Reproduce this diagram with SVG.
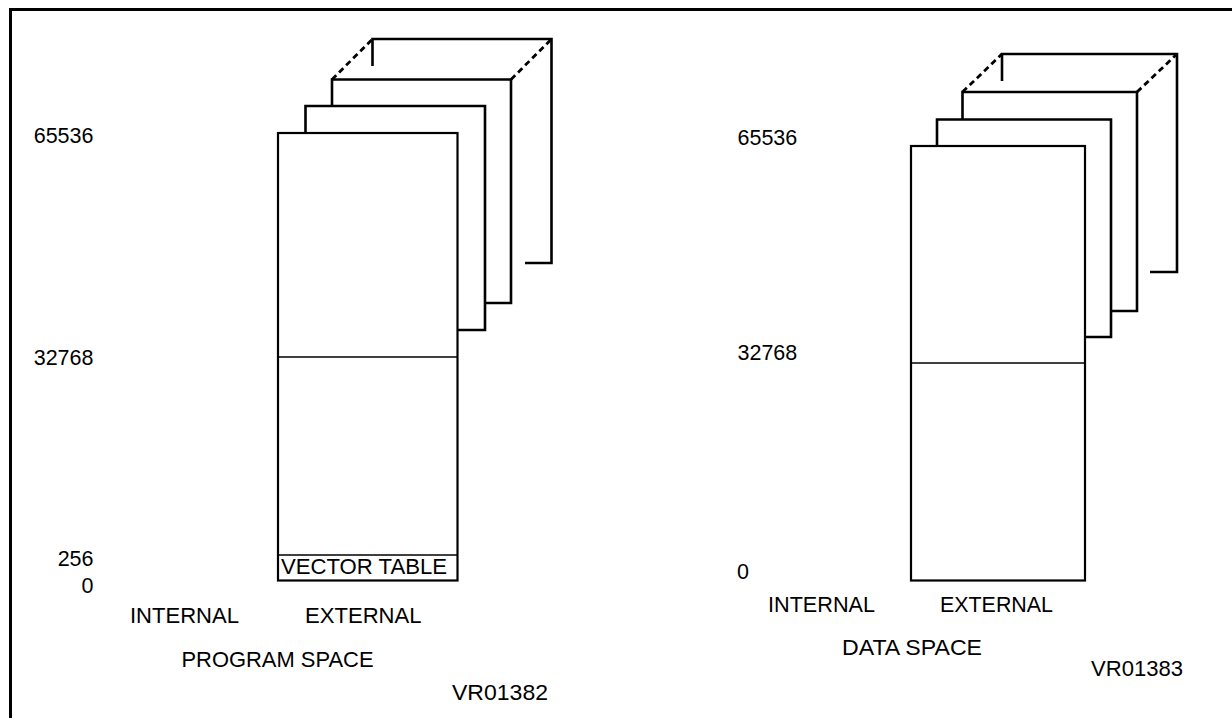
<svg xmlns="http://www.w3.org/2000/svg" width="1232" height="718" viewBox="0 0 1232 718">
<style>
.pg{fill:none;stroke:#000;stroke-width:2.6;stroke-linejoin:miter}
.front{fill:#fff;stroke:#000;stroke-width:2.2}
.thin{fill:none;stroke:#000;stroke-width:1.5}
.dash{fill:none;stroke:#000;stroke-width:2.8;stroke-dasharray:6 4}
.t{font-family:"Liberation Sans",Arial,sans-serif;font-size:21.5px;fill:#000}
.e{text-anchor:end}
</style>
<rect x="0" y="0" width="1232" height="718" fill="#fff"/>
<path d="M10.5,720 V9.5 H1240" fill="none" stroke="#000" stroke-width="3"/>

<g id="program-space">
  <g id="prog-page-back">
    <path class="pg" d="M372.5,66 V39 H551.5 V263 H525"/>
    <path class="dash" d="M332,79.5 L372.5,39"/>
    <path class="dash" d="M511,79.5 L551.5,39"/>
  </g>
  <g id="prog-page-3">
    <path class="pg" d="M332,106 V79.5 H511 V303 H485"/>
  </g>
  <g id="prog-page-2">
    <path class="pg" d="M305.5,133 V106 H485 V330 H457.5"/>
  </g>
  <g id="prog-page-front">
    <rect class="front" x="278" y="133" width="179.5" height="447.5"/>
    <line class="thin" x1="278" y1="357" x2="457.5" y2="357"/>
    <line class="thin" x1="278" y1="555" x2="457.5" y2="555"/>
    <text class="t" x="281" y="574" textLength="166" lengthAdjust="spacingAndGlyphs">VECTOR TABLE</text>
  </g>
  <g id="prog-labels">
    <text class="t e" x="93.5" y="142.5">65536</text>
    <text class="t e" x="93.5" y="365">32768</text>
    <text class="t e" x="93.5" y="566">256</text>
    <text class="t e" x="93.5" y="593">0</text>
    <text class="t" x="130" y="622.5" textLength="109" lengthAdjust="spacingAndGlyphs">INTERNAL</text>
    <text class="t" x="305" y="622.5" textLength="116.5" lengthAdjust="spacingAndGlyphs">EXTERNAL</text>
    <text class="t" x="181.5" y="667" textLength="192" lengthAdjust="spacingAndGlyphs">PROGRAM SPACE</text>
    <text class="t" x="452" y="700" textLength="96" lengthAdjust="spacingAndGlyphs">VR01382</text>
  </g>
</g>

<g id="data-space">
  <g id="data-page-back">
    <path class="pg" d="M1002,81 V54 H1177 V272 H1150"/>
    <path class="dash" d="M962.5,92 L1002,54"/>
    <path class="dash" d="M1137,92 L1177,54"/>
  </g>
  <g id="data-page-3">
    <path class="pg" d="M962.5,119.5 V92 H1137 V311 H1111"/>
  </g>
  <g id="data-page-2">
    <path class="pg" d="M937,146 V119.5 H1111 V337 H1085"/>
  </g>
  <g id="data-page-front">
    <rect class="front" x="911" y="146" width="174" height="434.5"/>
    <line class="thin" x1="911" y1="363" x2="1085" y2="363"/>
  </g>
  <g id="data-labels">
    <text class="t" x="737.5" y="144.5">65536</text>
    <text class="t" x="737.5" y="360">32768</text>
    <text class="t" x="737" y="579">0</text>
    <text class="t" x="768" y="612" textLength="107" lengthAdjust="spacingAndGlyphs">INTERNAL</text>
    <text class="t" x="940" y="612" textLength="113" lengthAdjust="spacingAndGlyphs">EXTERNAL</text>
    <text class="t" x="842" y="655" textLength="140" lengthAdjust="spacingAndGlyphs">DATA SPACE</text>
    <text class="t" x="1091" y="676" textLength="92" lengthAdjust="spacingAndGlyphs">VR01383</text>
  </g>
</g>
</svg>
